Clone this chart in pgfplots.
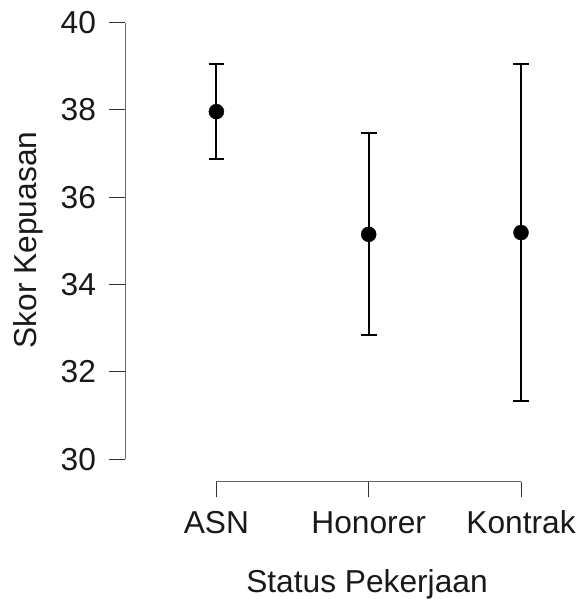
\documentclass[border=0pt]{standalone}
\usepackage{fontspec}
\setmainfont{Liberation Sans}
\usepackage{pgfplots}
\pgfplotsset{compat=1.18}
\begin{document}
\begin{tikzpicture}
\def\bigfont{\fontsize{31.7}{38}\selectfont}
\begin{axis}[
  at={(125pt,117.3pt)}, anchor=south west,
  scale only axis, width=487.4pt, height=471.4pt,
  xmin=0.4, xmax=3.6, ymin=29.485, ymax=40.28,
  axis x line*=bottom, axis y line*=left,
  x axis line style={draw=none}, y axis line style={draw=none},
  xtick={1,2,3}, xticklabels={ASN,Honorer,Kontrak},
  ytick={30,32,34,36,38,40},
  tick align=outside, major tick length=15.8pt,
  every tick/.style={black!80, line width=1pt},
  /pgf/number format/assume math mode=true,
  tick label style={font=\bigfont, text=black!90},
  xticklabel style={anchor=base, inner sep=0pt, yshift=-36.2pt},
  yticklabel style={anchor=east, inner sep=0pt, xshift=-13pt},
  xlabel={Status Pekerjaan}, ylabel={Skor Kepuasan},
  label style={font=\bigfont, text=black!90},
  xlabel style={at={(axis description cs:0.4965,-0.236)}, anchor=base, inner sep=0pt},
  ylabel style={at={(axis description cs:-0.1812,0.5127)}, anchor=base, inner sep=0pt},
  clip=false,
]
\draw[black!60, line width=1pt] (axis cs:1,29.485) -- (axis cs:3,29.485);
\draw[black!60, line width=1pt] (axis cs:0.4,30) -- (axis cs:0.4,40);
\addplot[only marks, mark=*, mark size=7.5pt, black,
  error bars/.cd, y dir=both, y explicit,
  error mark=-, error bar style={line width=2pt, black},
  error mark options={line width=2pt, mark size=7.8pt, black, rotate=90}]
  coordinates {
    (1,37.96) +- (0,1.08)
    (2,35.15) +- (0,2.31)
    (3,35.19) +- (0,3.85)
  };
\end{axis}
\pgfresetboundingbox
\path (0,0) rectangle (579pt,599pt);
\end{tikzpicture}
\end{document}
